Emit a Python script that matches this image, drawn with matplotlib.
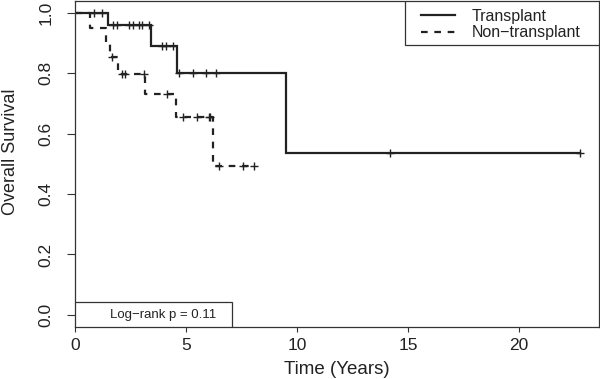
import numpy as np
import matplotlib
matplotlib.use("Agg")
import matplotlib.pyplot as plt
from matplotlib.patches import Rectangle

plt.rcParams['font.family'] = ['Liberation Sans', 'DejaVu Sans']

# ---- data ----
tx_times = [0.0, 1.51, 3.44, 4.62, 9.50]
tx_surv = [1.0, 0.96, 0.891, 0.80, 0.535]
tx_end = 22.73
tx_censor = [0.88, 1.25, 1.72, 1.90, 2.45, 2.62, 2.90, 3.05, 3.35,
             3.91, 4.11, 4.44, 4.70, 5.34, 5.89, 6.36, 14.18, 22.73]

nt_times = [0.0, 0.67, 1.40, 1.60, 1.97, 3.15, 4.58, 6.24]
nt_surv = [1.0, 0.948, 0.90, 0.852, 0.797, 0.731, 0.656, 0.493]
nt_end = 8.07
nt_censor = [1.69, 2.15, 2.27, 3.10, 4.17, 4.86, 5.50, 6.03, 6.11,
             6.50, 7.58, 8.07]

labels = ["Transplant", "Non\u2212transplant"]
xticks = [0, 5, 10, 15, 20]
yticks = [0.0, 0.2, 0.4, 0.6, 0.8, 1.0]
pval_text = "Log\u2212rank p = 0.11"
xlabel = "Time (Years)"
ylabel = "Overall Survival"

ink = '#222222'


def step_value(times, surv, t):
    idx = np.searchsorted(np.asarray(times), np.asarray(t), side='right') - 1
    return np.asarray(surv)[idx]


W, H = 600, 379
fig = plt.figure(figsize=(W / 100, H / 100), dpi=100)
ax = fig.add_axes([74.7 / W, 52 / H, (599 - 74.7) / W, (327 - 0.6) / H])
ax.set_xlim(0, 23.6)
ax.set_ylim(-0.04, 1.04)

# curves
tx_x = list(tx_times) + [tx_end]
tx_y = list(tx_surv) + [tx_surv[-1]]
nt_x = list(nt_times) + [nt_end]
nt_y = list(nt_surv) + [nt_surv[-1]]

l1, = ax.step(tx_x, tx_y, where='post', color=ink, lw=1.6, solid_joinstyle='miter')
l2, = ax.step(nt_x, nt_y, where='post', color=ink, lw=1.6, linestyle=(0, (3.0, 3.0)))

ax.plot(tx_censor, step_value(tx_times, tx_surv, tx_censor), linestyle='none',
        marker='+', markersize=6, markeredgewidth=1.0, color=ink)
ax.plot(nt_censor, step_value(nt_times, nt_surv, nt_censor), linestyle='none',
        marker='+', markersize=6, markeredgewidth=1.0, color=ink)

# axes styling
for s in ax.spines.values():
    s.set_color('#333333')
    s.set_linewidth(0.9)
ax.set_xticks(xticks)
ax.set_xticklabels([str(v) for v in xticks])
ax.set_yticks(yticks)
ax.set_yticklabels([f"{v:.1f}" for v in yticks], rotation=90, va='center')
ax.tick_params(axis='x', length=3.3, width=0.8, color='#333333', labelsize=12.5,
               pad=4.5, labelcolor=ink)
ax.tick_params(axis='y', length=6.0, width=0.8, color='#333333', labelsize=12.5,
               pad=9, labelcolor=ink)
ax.set_xlabel(xlabel, fontsize=13.5, color=ink)
ax.set_ylabel(ylabel, fontsize=13, color=ink)
ax.xaxis.set_label_coords(0.5, -(361 - 327) / 326.4, transform=ax.transAxes)
ax.yaxis.set_label_coords(-(74.7 - 19) / 524.3, (327 - 152) / 326.4,
                          transform=ax.transAxes)

# legend (frame drawn separately)
ax.add_patch(Rectangle((0.63, 1 - (45 - 0.6) / 326.4), 0.37, (45 - 0.6) / 326.4,
                       transform=ax.transAxes, facecolor='white',
                       edgecolor='#333333', lw=0.9, zorder=4))
leg = ax.legend([l1, l2], labels, loc='upper left',
                bbox_to_anchor=((420.7 - 74.7) / 524.3, 1 - (9.0 - 0.6) / 326.4),
                frameon=False, borderpad=0, borderaxespad=0, handlelength=2.15,
                handletextpad=1.05, labelspacing=0.08, fontsize=11.5)
leg.set_zorder(5)
for t in leg.get_texts():
    t.set_color(ink)

# log-rank box
ax.add_patch(Rectangle((0, 0), (231.7 - 74.7) / 524.3, (327 - 302.3) / 326.4,
                       transform=ax.transAxes, facecolor='white',
                       edgecolor='#333333', lw=0.9, zorder=4))
ax.text((163 - 74.7) / 524.3, (327 - 314.6) / 326.4, pval_text,
        transform=ax.transAxes, ha='center', va='center', fontsize=9.5,
        color=ink, zorder=5)

fig.savefig("out.png", dpi=100)
